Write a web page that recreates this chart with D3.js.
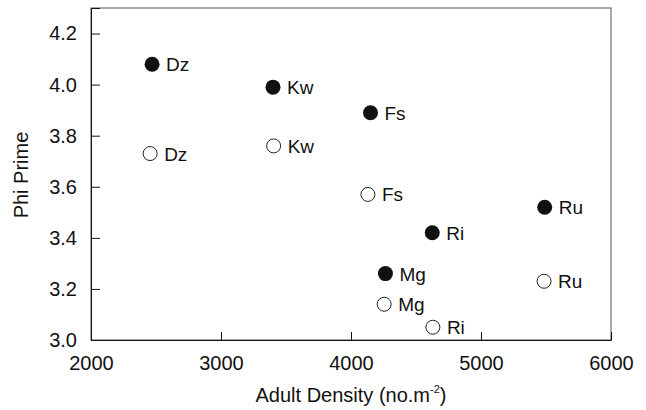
<!DOCTYPE html>
<html>
<head>
<meta charset="utf-8">
<script src="https://cdn.jsdelivr.net/npm/d3@7"></script>
<style>
  html, body { margin: 0; padding: 0; background: #fff; }
  svg text { font-family: Arial, "Liberation Sans", sans-serif; fill: #111; }
</style>
</head>
<body>
<svg id="chart" width="646" height="410"></svg>
<script>
// ---- data ----
const sites = ["Dz", "Kw", "Fs", "Ri", "Mg", "Ru"];
const density = [2470, 3400, 4150, 4625, 4265, 5490];
const phiFilled = [4.08, 3.99, 3.89, 3.42, 3.26, 3.52];
const densityOpen = [2455, 3405, 4130, 4630, 4255, 5485];
const phiOpen = [3.73, 3.76, 3.57, 3.05, 3.14, 3.23];
const xTicks = [2000, 3000, 4000, 5000, 6000];
const yTicks = [3.0, 3.2, 3.4, 3.6, 3.8, 4.0, 4.2];

const svg = d3.select("#chart");
const mLeft = 91, mRight = 611, mTop = 8, mBottom = 340;
const FONT = "Arial, 'Liberation Sans', sans-serif";

const x = d3.scaleLinear().domain([2000, 6000]).range([mLeft, mRight]);
const y = d3.scaleLinear().domain([3.0, 4.3]).range([mBottom, mTop]);

// frame (top/right)
svg.append("rect")
  .attr("x", mLeft).attr("y", mTop)
  .attr("width", mRight - mLeft).attr("height", mBottom - mTop)
  .attr("fill", "none").attr("stroke", "#555").attr("stroke-width", 1);

// y axis (ticks inward)
const yAxis = d3.axisLeft(y).tickValues(yTicks).tickSize(-9).tickPadding(14)
  .tickFormat(d3.format(".1f"));
const gy = svg.append("g").attr("transform", `translate(${mLeft},0)`).call(yAxis);
gy.select(".domain").attr("stroke", "#111");
gy.selectAll(".tick line").attr("stroke", "#111");
gy.selectAll(".tick text").attr("font-size", 20).attr("fill", "#111")
  .attr("font-family", FONT);

// x axis (ticks inward)
const xAxis = d3.axisBottom(x).tickValues(xTicks).tickSize(-8).tickPadding(16)
  .tickFormat(d3.format("d"));
const gx = svg.append("g").attr("transform", `translate(0,${mBottom})`).call(xAxis);
gx.select(".domain").attr("stroke", "#111");
gx.selectAll(".tick line").attr("stroke", "#111");
gx.selectAll(".tick text").attr("font-size", 20).attr("fill", "#111")
  .attr("font-family", FONT);

// axis titles
const xt = svg.append("text")
  .attr("x", 351).attr("y", 402)
  .attr("text-anchor", "middle").attr("font-size", 20);
xt.append("tspan").text("Adult Density (no.m");
xt.append("tspan").attr("font-size", 11).attr("dy", -9).text("-2");
xt.append("tspan").attr("dy", 9).text(")");

svg.append("text")
  .attr("transform", `translate(28,175) rotate(-90)`)
  .attr("text-anchor", "middle").attr("font-size", 20)
  .text("Phi Prime");

// points
const filled = sites.map((s, i) => ({ s, x: density[i], y: phiFilled[i] }));
const open = sites.map((s, i) => ({ s, x: densityOpen[i], y: phiOpen[i] }));

svg.append("g").selectAll("circle").data(open).join("circle")
  .attr("cx", d => x(d.x)).attr("cy", d => y(d.y)).attr("r", 7)
  .attr("fill", "#fff").attr("stroke", "#222").attr("stroke-width", 1);

svg.append("g").selectAll("circle").data(filled).join("circle")
  .attr("cx", d => x(d.x)).attr("cy", d => y(d.y)).attr("r", 7.5)
  .attr("fill", "#111");

const lab = (data) => svg.append("g").selectAll("text").data(data).join("text")
  .attr("x", d => x(d.x) + 14).attr("y", d => y(d.y) + 7)
  .attr("font-size", 19).text(d => d.s);
lab(filled);
lab(open);
</script>
</body>
</html>
